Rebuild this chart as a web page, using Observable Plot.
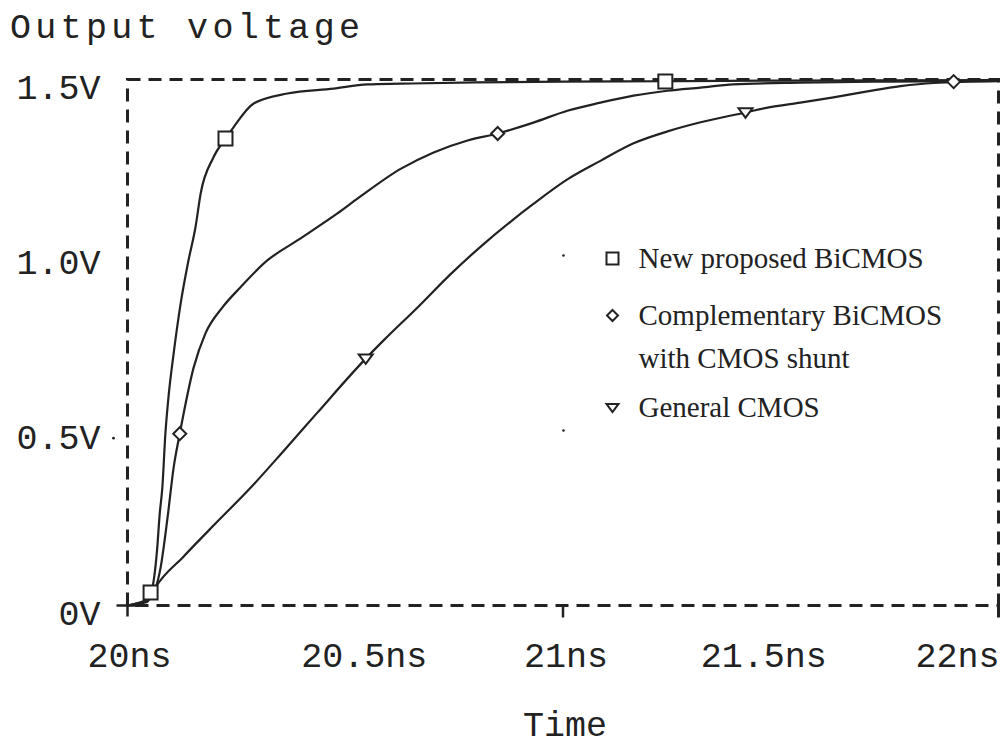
<!DOCTYPE html>
<html>
<head>
<meta charset="utf-8">
<script src="https://cdn.jsdelivr.net/npm/d3@7"></script>
<script src="https://cdn.jsdelivr.net/npm/@observablehq/plot@0.6"></script>
<style>
  html, body { margin: 0; padding: 0; background: #fff; }
  #title { height: 55px; box-sizing: border-box; padding: 9px 0 0 10px; font: 35px/40px "Liberation Mono", monospace; letter-spacing: 4.3px; color: #222; }
  #chart svg { display: block; }
</style>
</head>
<body>
<div id="title">Output voltage</div>
<div id="chart"></div>
<script>
// ---------- data ----------
const titleText = "Output voltage";
const xAxisLabel = "Time";
const xTickValues = [20, 20.5, 21, 21.5, 22];
const xTickLabels = ["20ns", "20.5ns", "21ns", "21.5ns", "22ns"];
const yTickValues = [1.5, 1.0, 0.5, 0];
const yTickLabels = ["1.5V", "1.0V", "0.5V", "0V"];
const seriesNames = ["New proposed BiCMOS", "Complementary BiCMOS", "General CMOS"];
const legendLines = ["New proposed BiCMOS", "Complementary BiCMOS", "with CMOS shunt", "General CMOS"];

// New proposed BiCMOS (ns, V)
const npTime = [20.00, 20.045, 20.06, 20.068, 20.074, 20.080, 20.087, 20.094, 20.106, 20.122, 20.140, 20.156, 20.168, 20.197, 20.225, 20.243, 20.289, 20.367, 20.473, 20.551, 20.627, 20.80, 21.00, 21.235, 21.50, 22.00];
const npVolt = [0.00, 0.01, 0.07, 0.16, 0.262, 0.336, 0.49, 0.593, 0.719, 0.861, 0.984, 1.078, 1.175, 1.277, 1.332, 1.363, 1.431, 1.460, 1.474, 1.486, 1.488, 1.492, 1.494, 1.495, 1.497, 1.498];
// Complementary BiCMOS with CMOS shunt
const cbTime = [20.00, 20.05, 20.076, 20.092, 20.106, 20.12, 20.152, 20.179, 20.218, 20.259, 20.321, 20.390, 20.482, 20.528, 20.627, 20.703, 20.781, 20.850, 20.932, 21.010, 21.086, 21.162, 21.240, 21.316, 21.391, 21.545, 21.75, 22.00];
const cbVolt = [0.00, 0.02, 0.108, 0.251, 0.394, 0.49, 0.679, 0.776, 0.850, 0.907, 0.984, 1.041, 1.118, 1.160, 1.245, 1.292, 1.326, 1.346, 1.377, 1.411, 1.434, 1.454, 1.468, 1.477, 1.486, 1.491, 1.494, 1.496];
// General CMOS
const gcTime = [20.00, 20.05, 20.064, 20.129, 20.207, 20.282, 20.358, 20.436, 20.547, 20.588, 20.666, 20.742, 20.817, 20.880, 20.932, 21.010, 21.086, 21.162, 21.240, 21.316, 21.419, 21.470, 21.545, 21.621, 21.699, 21.775, 21.851, 22.00];
const gcVolt = [0.00, 0.02, 0.051, 0.14, 0.24, 0.335, 0.44, 0.55, 0.704, 0.756, 0.850, 0.945, 1.030, 1.095, 1.145, 1.215, 1.268, 1.318, 1.352, 1.378, 1.406, 1.420, 1.434, 1.449, 1.466, 1.481, 1.490, 1.495];

// marker positions on each curve
const npMarkT = [20.053, 20.225, 21.235];
const npMarkV = [0.037, 1.332, 1.494];
const cbMarkT = [20.12, 20.85, 21.897];
const cbMarkV = [0.49, 1.346, 1.494];
const gcMarkT = [20.547, 21.419];
const gcMarkV = [0.704, 1.406];

// ---------- build tables ----------
const toRows = (ts, vs, s) => ts.map((t, i) => ({t, v: vs[i], s}));
const lineRows = [
  ...toRows(npTime, npVolt, seriesNames[0]),
  ...toRows(cbTime, cbVolt, seriesNames[1]),
  ...toRows(gcTime, gcVolt, seriesNames[2])
];
const npMarks = toRows(npMarkT, npMarkV, seriesNames[0]);
const cbMarks = toRows(cbMarkT, cbMarkV, seriesNames[1]);
const gcMarks = toRows(gcMarkT, gcMarkV, seriesNames[2]);

// ---------- custom symbols ----------
const symSquare = {draw(c, size) { const h = Math.sqrt(size / Math.PI); c.moveTo(-h, -h); c.lineTo(h, -h); c.lineTo(h, h); c.lineTo(-h, h); c.closePath(); }};
const symDiamond = {draw(c, size) { const h = Math.sqrt(size / Math.PI); c.moveTo(0, -h); c.lineTo(h, 0); c.lineTo(0, h); c.lineTo(-h, 0); c.closePath(); }};
const symTriDown = {draw(c, size) { const h = Math.sqrt(size / Math.PI); c.moveTo(-h, -h * 0.6); c.lineTo(h, -h * 0.6); c.lineTo(0, h * 0.75); c.closePath(); }};
const symCross = {draw(c, size) { const h = Math.sqrt(size / Math.PI); c.moveTo(-h, 0); c.lineTo(h, 0); c.moveTo(0, -h); c.lineTo(0, h); }};
const symVTick = {draw(c, size) { const h = Math.sqrt(size / Math.PI); c.moveTo(0, -h); c.lineTo(0, h); }};
const symDownTick = {draw(c, size) { const h = Math.sqrt(size / Math.PI); c.moveTo(0, 0); c.lineTo(0, h); }};

const ink = "#222";
const serif = "'Liberation Serif', 'DejaVu Serif', serif";

const markerStyle = {x: "t", y: "v", r: 7, stroke: ink, strokeWidth: 2, fill: "white"};
const legendStyle = {frameAnchor: "top-left", r: 6, stroke: ink, strokeWidth: 2, fill: "white"};
const legendText = {frameAnchor: "top-left", textAnchor: "start", lineAnchor: "middle", fontFamily: serif, fontSize: 29, fill: ink};
const xLab = (i, opts) => Plot.text([xTickValues[i]], {x: d => d, frameAnchor: "bottom", textAnchor: "middle", lineAnchor: "middle", dy: 50, text: () => xTickLabels[i], fill: ink, ...opts});

const chart = Plot.plot({
  width: 1005,
  height: 693,
  marginTop: 24,
  marginBottom: 143,
  marginLeft: 127,
  marginRight: 7,
  x: {domain: [20, 22], axis: null},
  y: {domain: [0, 1.5], axis: null},
  style: {fontFamily: "'Liberation Mono', monospace", fontSize: "35px", color: ink, background: "white", overflow: "visible"},
  marks: [
    Plot.frame({stroke: ink, strokeWidth: 3, strokeDasharray: "13,8"}),
    // axis tick marks
    Plot.dot([xTickValues[0]], {x: d => d, y: () => yTickValues[3], symbol: symCross, r: 11, stroke: ink, strokeWidth: 2.5}),
    Plot.dot([xTickValues[2]], {x: d => d, y: () => yTickValues[3], symbol: symDownTick, r: 12, stroke: ink, strokeWidth: 2.5}),
    Plot.dot([xTickValues[4]], {x: d => d, y: () => yTickValues[3], symbol: symVTick, r: 12, stroke: ink, strokeWidth: 3}),
    Plot.dot([yTickValues[2]], {y: d => d, frameAnchor: "left", dx: -14, dy: 8, r: 1.4, fill: ink}),
    // curves
    Plot.line(lineRows, {x: "t", y: "v", z: "s", stroke: ink, strokeWidth: 2.2, curve: "monotone-x"}),
    // markers
    Plot.dot(npMarks, {...markerStyle, symbol: symSquare}),
    Plot.dot(cbMarks, {...markerStyle, symbol: symDiamond, r: 6.5}),
    Plot.dot(gcMarks, {...markerStyle, symbol: symTriDown}),
    // y tick labels
    Plot.text(yTickValues, {y: d => d, frameAnchor: "left", textAnchor: "end", lineAnchor: "middle", dx: -27, dy: 8, text: (d, i) => yTickLabels[i], fill: ink}),
    // x tick labels
    xLab(0, {dx: 2}),
    xLab(1, {dx: 19}),
    xLab(2, {dx: 3}),
    xLab(3, {dx: -17}),
    xLab(4, {textAnchor: "end", dx: 1}),
    // x axis label
    Plot.text([xAxisLabel], {frameAnchor: "bottom", lineAnchor: "middle", dx: 2, dy: 119, fill: ink}),
    // legend (inside plot)
    Plot.dot([0], {frameAnchor: "top-left", dx: 436, dy: 176, r: 1.3, fill: ink}),
    Plot.dot([0], {frameAnchor: "top-left", dx: 436, dy: 351, r: 1.3, fill: ink}),
    Plot.dot([0], {...legendStyle, dx: 485, dy: 179, symbol: symSquare}),
    Plot.dot([0], {...legendStyle, dx: 485, dy: 236, symbol: symDiamond, r: 5.5}),
    Plot.dot([0], {...legendStyle, dx: 485, dy: 328, symbol: symTriDown}),
    Plot.text([legendLines[0]], {...legendText, dx: 511, dy: 179}),
    Plot.text([legendLines[1]], {...legendText, dx: 511, dy: 236}),
    Plot.text([legendLines[2]], {...legendText, dx: 511, dy: 279}),
    Plot.text([legendLines[3]], {...legendText, dx: 511, dy: 328})
  ]
});
document.getElementById("chart").appendChild(chart);
document.getElementById("title").textContent = titleText;
</script>
</body>
</html>
